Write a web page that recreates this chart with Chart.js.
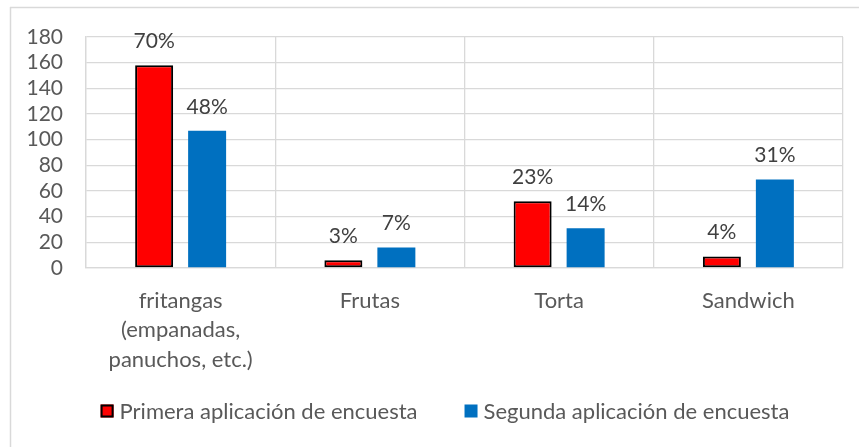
<!DOCTYPE html>
<html>
<head>
<meta charset="utf-8">
<script src="https://cdn.jsdelivr.net/npm/chart.js@4/dist/chart.umd.min.js"></script>
<style>
html,body{margin:0;padding:0;background:#ffffff;}
#wrap{width:859px;height:447px;position:relative;}
canvas{display:block;}
</style>
</head>
<body>
<div id="wrap"><canvas id="c" width="859" height="447"></canvas></div>
<script>
// ---- data ----
const categories = [["fritangas", "(empanadas,", "panuchos, etc.)"], "Frutas", "Torta", "Sandwich"];
const seriesNames = ["Primera aplicación de encuesta", "Segunda aplicación de encuesta"];
const primeraValues = [158, 6, 52, 9];
const segundaValues = [107, 16, 31, 69];
const primeraLabels = ["70%", "3%", "23%", "4%"];
const segundaLabels = ["48%", "7%", "14%", "31%"];
const yMin = 0;
const yMax = 180;
const yStep = 20;

const FONT = "Lato, 'Noto Sans', sans-serif";
const AXIS_COLOR = "#595959";
const LABEL_COLOR = "#404040";
const GRID_COLOR = "#d9d9d9";

const frameLines = {
  id: "frameLines",
  beforeDraw(chart) {
    const ctx = chart.ctx;
    ctx.save();
    ctx.fillStyle = "#ffffff";
    ctx.fillRect(0, 0, chart.width, chart.height);
    ctx.strokeStyle = GRID_COLOR;
    ctx.lineWidth = 1.5;
    ctx.beginPath();
    ctx.moveTo(10, 7.5);
    ctx.lineTo(chart.width, 7.5);
    ctx.moveTo(10.5, 7);
    ctx.lineTo(10.5, chart.height);
    ctx.stroke();
    ctx.restore();
  }
};

const barLabels = {
  id: "barLabels",
  afterDatasetsDraw(chart) {
    const ctx = chart.ctx;
    ctx.save();
    ctx.font = "21px " + FONT;
    ctx.fillStyle = LABEL_COLOR;
    ctx.textAlign = "center";
    ctx.textBaseline = "alphabetic";
    chart.data.datasets.forEach((ds, di) => {
      const meta = chart.getDatasetMeta(di);
      meta.data.forEach((el, i) => {
        ctx.fillText(ds.pctLabels[i], el.x, el.y - 17);
      });
    });
    ctx.restore();
  }
};

const customLegend = {
  id: "customLegend",
  afterDraw(chart) {
    const ctx = chart.ctx;
    ctx.save();
    ctx.font = "22px " + FONT;
    const box = 13, gap = 6, itemGap = 47;
    const items = chart.data.datasets.map(ds => ({
      text: ds.label, fill: ds.backgroundColor, border: ds.borderWidth ? ds.borderColor : null,
      w: ctx.measureText(ds.label).width
    }));
    let total = 0;
    items.forEach((it, i) => { total += box + gap + it.w + (i ? itemGap : 0); });
    let x = 445 - total / 2;
    const cy = 411;
    items.forEach((it, i) => {
      if (i) x += itemGap;
      ctx.fillStyle = it.fill;
      ctx.fillRect(x, cy - box / 2, box, box);
      if (it.border) {
        ctx.strokeStyle = it.border;
        ctx.lineWidth = 2;
        ctx.strokeRect(x + 1, cy - box / 2 + 1, box - 2, box - 2);
      }
      x += box + gap;
      ctx.fillStyle = AXIS_COLOR;
      ctx.textAlign = "left";
      ctx.textBaseline = "middle";
      ctx.fillText(it.text, x, cy + 1);
      x += it.w;
    });
    ctx.restore();
  }
};

new Chart(document.getElementById("c"), {
  type: "bar",
  data: {
    labels: categories,
    datasets: [
      {
        label: seriesNames[0],
        data: primeraValues,
        pctLabels: primeraLabels,
        backgroundColor: "#ff0000",
        borderColor: "#000000",
        borderWidth: 2,
        borderSkipped: false,
        categoryPercentage: 0.56,
        barPercentage: 0.717
      },
      {
        label: seriesNames[1],
        data: segundaValues,
        pctLabels: segundaLabels,
        backgroundColor: "#0070c0",
        borderWidth: 0,
        categoryPercentage: 0.56,
        barPercentage: 0.717
      }
    ]
  },
  options: {
    responsive: false,
    animation: false,
    devicePixelRatio: 1,
    layout: { padding: { top: 37, right: 16, left: 0, bottom: 0 } },
    plugins: {
      legend: { display: false },
      tooltip: { enabled: false }
    },
    scales: {
      x: {
        grid: { color: GRID_COLOR, lineWidth: 1.3, drawTicks: false, offset: true },
        border: { color: GRID_COLOR, width: 1.3 },
        ticks: {
          color: AXIS_COLOR,
          font: { family: FONT, size: 22, lineHeight: 1.34 },
          padding: 18,
          maxRotation: 0,
          autoSkip: false
        },
        afterFit(scale) { scale.height = 179; }
      },
      y: {
        min: yMin,
        max: yMax,
        grid: { color: GRID_COLOR, lineWidth: 1.3, drawTicks: false },
        border: { color: GRID_COLOR, width: 1.3 },
        ticks: {
          stepSize: yStep,
          autoSkip: false,
          color: AXIS_COLOR,
          font: { family: FONT, size: 21 },
          padding: 23
        },
        afterFit(scale) { scale.width = 86; }
      }
    }
  },
  plugins: [frameLines, barLabels, customLegend]
});
</script>
</body>
</html>
